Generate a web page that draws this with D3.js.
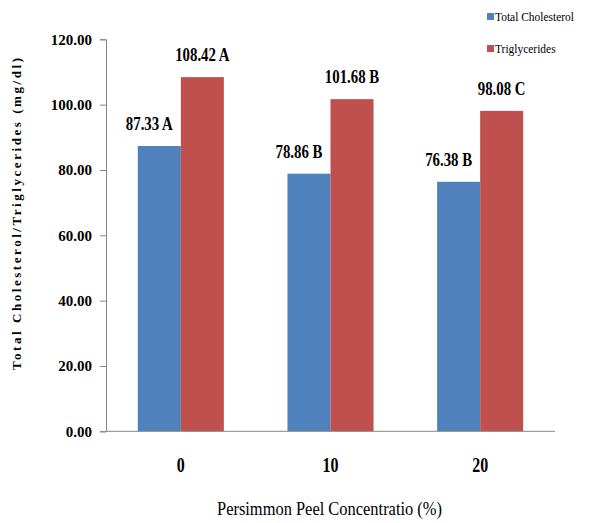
<!DOCTYPE html>
<html><head><meta charset="utf-8">
<script src="https://cdn.jsdelivr.net/npm/d3@7"></script>
<style>body{margin:0;background:#fff}svg{display:block}</style>
</head><body>
<svg id="c" width="590" height="523"></svg>
<script>
const categories = ["0", "10", "20"];
const seriesNames = ["Total Cholesterol", "Triglycerides"];
const cholesterol = [87.33, 78.86, 76.38];
const triglycerides = [108.42, 101.68, 98.08];
const cholLetters = ["A", "B", "B"];
const trigLetters = ["A", "B", "C"];
const yTicks = [0, 20, 40, 60, 80, 100, 120];
const colors = ["#4F81BD", "#C0504D"];

(function() {
const svg = d3.select("#c");
const serif = "'Liberation Serif','Times New Roman',serif";
const mLeft = 106, mRight = 555, mTop = 39.3, mBottom = 431.3;

const y = d3.scaleLinear().domain([0, 120]).range([mBottom, mTop]);
const x0 = d3.scaleBand().domain(categories).range([mLeft, mRight]).padding(0);
const groupW = x0.bandwidth() * 0.575;
const x1 = d3.scaleBand().domain(seriesNames).range([0, groupW]).padding(0);

const values = [cholesterol, triglycerides];
const letters = [cholLetters, trigLetters];

function squeeze(sel, f) {
  sel.each(function() {
    const w = this.getComputedTextLength();
    d3.select(this).attr("textLength", w * f).attr("lengthAdjust", "spacingAndGlyphs");
  });
}

// y axis
const yAxis = svg.append("g").attr("transform", `translate(${mLeft},0)`)
  .call(d3.axisLeft(y).tickValues(yTicks).tickFormat(d3.format(".2f")).tickSizeOuter(0).tickSize(6).tickPadding(8));
yAxis.select(".domain").attr("stroke", "#868686");
yAxis.selectAll(".tick line").attr("stroke", "#868686");
yAxis.selectAll(".tick text").attr("font-family", serif).attr("font-size", 15).attr("font-weight", "bold").attr("fill", "#000");

// bars
const groups = svg.append("g").selectAll("g").data(categories).join("g")
  .attr("transform", c => `translate(${x0(c) + (x0.bandwidth() - groupW) / 2},0)`);

seriesNames.forEach((s, si) => {
  groups.append("rect")
    .attr("x", x1(s))
    .attr("width", x1.bandwidth())
    .attr("y", (c, i) => y(values[si][i]))
    .attr("height", (c, i) => y(0) - y(values[si][i]))
    .attr("fill", colors[si]);
});

// x axis line
svg.append("line").attr("x1", mLeft).attr("x2", mRight).attr("y1", y(0)).attr("y2", y(0))
  .attr("stroke", "#868686").attr("stroke-width", 1);

// data labels
const labelOffsets = [-10, 0];
seriesNames.forEach((s, si) => {
  const t = groups.append("text")
    .attr("x", x1(s) + x1.bandwidth() / 2 + labelOffsets[si])
    .attr("y", (c, i) => y(values[si][i]) - 16)
    .attr("text-anchor", "middle")
    .attr("font-family", serif).attr("font-size", 19).attr("font-weight", "bold")
    .text((c, i) => values[si][i].toFixed(2) + " " + letters[si][i]);
  squeeze(t, 0.78);
});

// x tick labels
const xt = svg.append("g").selectAll("text").data(categories).join("text")
  .attr("x", c => x0(c) + x0.bandwidth() / 2)
  .attr("y", 472)
  .attr("text-anchor", "middle")
  .attr("font-family", serif).attr("font-size", 20).attr("font-weight", "bold")
  .text(c => c);
squeeze(xt, 0.8);

// x title
svg.append("text").attr("x", 329.5).attr("y", 515).attr("text-anchor", "middle")
  .attr("font-family", serif).attr("font-size", 18)
  .attr("textLength", 225).attr("lengthAdjust", "spacingAndGlyphs")
  .text("Persimmon Peel Concentratio (%)");

// y title
svg.append("text").attr("transform", "translate(21,214) rotate(-90)")
  .attr("text-anchor", "middle")
  .attr("font-family", serif).attr("font-size", 13).attr("font-weight", "bold")
  .attr("textLength", 312).attr("lengthAdjust", "spacing")
  .text("Total Cholesterol/Triglycerides (mg/dl)");

// legend
const lg = svg.append("g").selectAll("g").data(seriesNames).join("g")
  .attr("transform", (d, i) => `translate(487,${13 + i * 32})`);
lg.append("rect").attr("width", 7).attr("height", 7).attr("fill", (d, i) => colors[i]);
const lt = lg.append("text").attr("x", 8).attr("y", 8)
  .attr("font-family", serif).attr("font-size", 13)
  .text(d => d);
squeeze(lt, 0.88);
})();
</script>
</body></html>
